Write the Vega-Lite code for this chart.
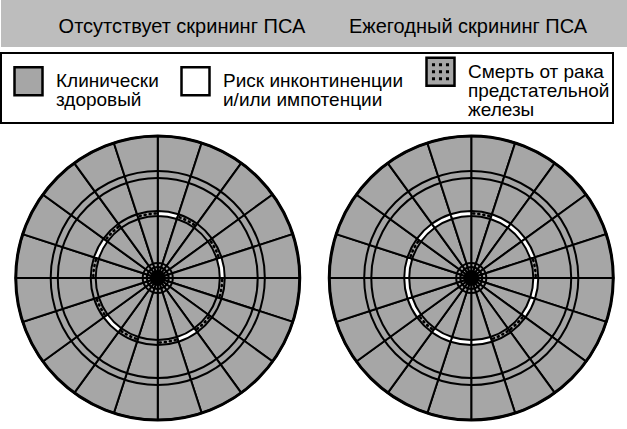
{
  "$schema": "https://vega.github.io/schema/vega-lite/v6.json",
  "padding": 0,
  "spacing": 5,
  "background": "white",
  "config": {"view": {"stroke": null}, "font": "Liberation Sans"},
  "resolve": {"scale": {"x": "independent", "fill": "independent"}, "legend": {"fill": "independent"}},
  "datasets": {
    "panels": [
      {"panel": "Отсутствует скрининг ПСА"},
      {"panel": "Ежегодный скрининг ПСА"}
    ],
    "rings": [
      {"panel": "Отсутствует скрининг ПСА", "r": 7.7},
      {"panel": "Отсутствует скрининг ПСА", "r": 10.6},
      {"panel": "Отсутствует скрининг ПСА", "r": 70.4},
      {"panel": "Отсутствует скрининг ПСА", "r": 75.4},
      {"panel": "Отсутствует скрининг ПСА", "r": 100},
      {"panel": "Ежегодный скрининг ПСА", "r": 7.7},
      {"panel": "Ежегодный скрининг ПСА", "r": 10.6},
      {"panel": "Ежегодный скрининг ПСА", "r": 70.4},
      {"panel": "Ежегодный скрининг ПСА", "r": 75.4},
      {"panel": "Ежегодный скрининг ПСА", "r": 100}
    ],
    "cells": [
      {"panel": "Отсутствует скрининг ПСА", "t0": 0, "t1": 18, "status": "Риск инконтиненции и/или  импотенции"},
      {"panel": "Отсутствует скрининг ПСА", "t0": 18, "t1": 36, "status": "Смерть от рака предстательной железы"},
      {"panel": "Отсутствует скрининг ПСА", "t0": 36, "t1": 54, "status": "Клинически здоровый"},
      {"panel": "Отсутствует скрининг ПСА", "t0": 54, "t1": 72, "status": "Смерть от рака предстательной железы"},
      {"panel": "Отсутствует скрининг ПСА", "t0": 72, "t1": 90, "status": "Риск инконтиненции и/или  импотенции"},
      {"panel": "Отсутствует скрининг ПСА", "t0": 90, "t1": 108, "status": "Смерть от рака предстательной железы"},
      {"panel": "Отсутствует скрининг ПСА", "t0": 108, "t1": 126, "status": "Клинически здоровый"},
      {"panel": "Отсутствует скрининг ПСА", "t0": 126, "t1": 144, "status": "Смерть от рака предстательной железы"},
      {"panel": "Отсутствует скрининг ПСА", "t0": 144, "t1": 162, "status": "Риск инконтиненции и/или  импотенции"},
      {"panel": "Отсутствует скрининг ПСА", "t0": 162, "t1": 180, "status": "Смерть от рака предстательной железы"},
      {"panel": "Отсутствует скрининг ПСА", "t0": 180, "t1": 198, "status": "Клинически здоровый"},
      {"panel": "Отсутствует скрининг ПСА", "t0": 198, "t1": 216, "status": "Смерть от рака предстательной железы"},
      {"panel": "Отсутствует скрининг ПСА", "t0": 216, "t1": 234, "status": "Риск инконтиненции и/или  импотенции"},
      {"panel": "Отсутствует скрининг ПСА", "t0": 234, "t1": 252, "status": "Смерть от рака предстательной железы"},
      {"panel": "Отсутствует скрининг ПСА", "t0": 252, "t1": 270, "status": "Клинически здоровый"},
      {"panel": "Отсутствует скрининг ПСА", "t0": 270, "t1": 288, "status": "Смерть от рака предстательной железы"},
      {"panel": "Отсутствует скрининг ПСА", "t0": 288, "t1": 306, "status": "Риск инконтиненции и/или  импотенции"},
      {"panel": "Отсутствует скрининг ПСА", "t0": 306, "t1": 324, "status": "Смерть от рака предстательной железы"},
      {"panel": "Отсутствует скрининг ПСА", "t0": 324, "t1": 342, "status": "Клинически здоровый"},
      {"panel": "Отсутствует скрининг ПСА", "t0": 342, "t1": 360, "status": "Смерть от рака предстательной железы"},
      {"panel": "Ежегодный скрининг ПСА", "t0": 0, "t1": 18, "status": "Смерть от рака предстательной железы"},
      {"panel": "Ежегодный скрининг ПСА", "t0": 18, "t1": 36, "status": "Риск инконтиненции и/или  импотенции"},
      {"panel": "Ежегодный скрининг ПСА", "t0": 36, "t1": 54, "status": "Риск инконтиненции и/или  импотенции"},
      {"panel": "Ежегодный скрининг ПСА", "t0": 54, "t1": 72, "status": "Риск инконтиненции и/или  импотенции"},
      {"panel": "Ежегодный скрининг ПСА", "t0": 72, "t1": 90, "status": "Смерть от рака предстательной железы"},
      {"panel": "Ежегодный скрининг ПСА", "t0": 90, "t1": 108, "status": "Риск инконтиненции и/или  импотенции"},
      {"panel": "Ежегодный скрининг ПСА", "t0": 108, "t1": 126, "status": "Риск инконтиненции и/или  импотенции"},
      {"panel": "Ежегодный скрининг ПСА", "t0": 126, "t1": 144, "status": "Смерть от рака предстательной железы"},
      {"panel": "Ежегодный скрининг ПСА", "t0": 144, "t1": 162, "status": "Смерть от рака предстательной железы"},
      {"panel": "Ежегодный скрининг ПСА", "t0": 162, "t1": 180, "status": "Риск инконтиненции и/или  импотенции"},
      {"panel": "Ежегодный скрининг ПСА", "t0": 180, "t1": 198, "status": "Риск инконтиненции и/или  импотенции"},
      {"panel": "Ежегодный скрининг ПСА", "t0": 198, "t1": 216, "status": "Риск инконтиненции и/или  импотенции"},
      {"panel": "Ежегодный скрининг ПСА", "t0": 216, "t1": 234, "status": "Смерть от рака предстательной железы"},
      {"panel": "Ежегодный скрининг ПСА", "t0": 234, "t1": 252, "status": "Риск инконтиненции и/или  импотенции"},
      {"panel": "Ежегодный скрининг ПСА", "t0": 252, "t1": 270, "status": "Риск инконтиненции и/или  импотенции"},
      {"panel": "Ежегодный скрининг ПСА", "t0": 270, "t1": 288, "status": "Риск инконтиненции и/или  импотенции"},
      {"panel": "Ежегодный скрининг ПСА", "t0": 288, "t1": 306, "status": "Смерть от рака предстательной железы"},
      {"panel": "Ежегодный скрининг ПСА", "t0": 306, "t1": 324, "status": "Риск инконтиненции и/или  импотенции"},
      {"panel": "Ежегодный скрининг ПСА", "t0": 324, "t1": 342, "status": "Риск инконтиненции и/или  импотенции"},
      {"panel": "Ежегодный скрининг ПСА", "t0": 342, "t1": 360, "status": "Риск инконтиненции и/или  импотенции"}
    ]
  },
  "vconcat": [
    {
      "width": 627,
      "height": 47,
      "view": {"fill": "#bdbdbd", "stroke": null},
      "data": {"name": "panels"},
      "mark": {"type": "text", "fontSize": 20, "font": "Liberation Sans", "color": "black", "baseline": "middle", "dy": 3},
      "encoding": {
        "x": {
          "field": "panel", "type": "nominal", "sort": null,
          "scale": {"type": "band", "paddingInner": 0, "paddingOuter": 0.096, "align": 0.69},
          "axis": null
        },
        "text": {"field": "panel"}
      }
    },
    {
      "width": 627,
      "height": 288,
      "encoding": {
        "x": {
          "field": "panel", "type": "nominal",
          "scale": {"type": "point", "padding": 0.5, "domain": ["Отсутствует скрининг ПСА", "Ежегодный скрининг ПСА"]},
          "axis": null
        }
      },
      "layer": [
        {
          "data": {"name": "cells"},
          "mark": {"type": "arc", "stroke": "black", "strokeWidth": 2},
          "encoding": {
            "theta": {"field": "t0", "type": "quantitative", "scale": {"domain": [0, 360]}},
            "theta2": {"field": "t1"},
            "radius": {"datum": 100, "type": "quantitative", "scale": {"type": "linear", "domain": [0, 100], "range": [0, 142], "zero": true}},
            "radius2": {"datum": 0},
            "fill": {
              "datum": "Клинически здоровый", "type": "nominal", "title": null,
              "scale": {
                "domain": ["Клинически здоровый", "Риск инконтиненции и/или  импотенции", "Смерть от рака предстательной железы"],
                "range": ["#a6a6a6", "#ffffff", "#a6a6a6"]
              },
              "legend": {
                "orient": "top", "title": null, "direction": "horizontal",
                "symbolType": "square", "symbolSize": 784, "symbolOffset": 9,
                "symbolStrokeColor": "black", "symbolStrokeWidth": 2.5,
                "labelFont": "Liberation Sans", "labelFontSize": 19, "labelColor": "black",
                "labelLimit": 400, "labelOffset": 12, "columnPadding": 12,
                "padding": 3, "strokeColor": "black", "offset": 11,
                "labelExpr": "datum.label == 'Клинически здоровый' ? ['Клинически', 'здоровый'] : datum.label == 'Смерть от рака предстательной железы' ? ['Смерть от рака', 'предстательной', 'железы'] : ['Риск инконтиненции', 'и/или  импотенции']",
                "encode": {
                  "symbols": {"update": {
                    "shape": {"signal": "datum.value == 'Смерть от рака предстательной железы' ? 'M-1,-1H1V1H-1Z M-0.52,-0.52h0.04v0.04h-0.04Z M-0.02,-0.52h0.04v0.04h-0.04Z M0.48,-0.52h0.04v0.04h-0.04Z M-0.52,-0.02h0.04v0.04h-0.04Z M-0.02,-0.02h0.04v0.04h-0.04Z M0.48,-0.02h0.04v0.04h-0.04Z M-0.52,0.48h0.04v0.04h-0.04Z M-0.02,0.48h0.04v0.04h-0.04Z M0.48,0.48h0.04v0.04h-0.04Z' : 'square'"},
                    "stroke": {"value": "black"},
                    "strokeWidth": {"value": 2.5},
                    "opacity": {"value": 1}
                  }},
                  "labels": {"update": {"lineHeight": {"value": 19}}},
                  "legend": {"update": {"strokeWidth": {"value": 2}}}
                }
              }
            }
          }
        },
        {
          "data": {"name": "cells"},
          "mark": {"type": "arc", "stroke": "black", "strokeWidth": 2},
          "encoding": {
            "theta": {"field": "t0", "type": "quantitative"},
            "theta2": {"field": "t1"},
            "radius": {"datum": 47.2, "type": "quantitative"},
            "radius2": {"datum": 43.7},
            "fill": {"field": "status", "type": "nominal", "title": null}
          }
        },
        {
          "data": {"name": "cells"},
          "transform": [{"filter": {"field": "status", "equal": "Смерть от рака предстательной железы"}}],
          "mark": {
            "type": "arc", "filled": false, "stroke": "black", "strokeWidth": 2.5,
            "strokeCap": "round", "strokeDash": [1, 4.066], "strokeDashOffset": 3.033
          },
          "encoding": {
            "theta": {"field": "t0", "type": "quantitative"},
            "theta2": {"field": "t1"},
            "radius": {"datum": 45.4, "type": "quantitative"},
            "radius2": {"datum": 45.4}
          }
        },
        {
          "data": {"name": "rings"},
          "mark": {"type": "arc", "filled": false, "stroke": "black"},
          "encoding": {
            "theta": {"datum": 0, "type": "quantitative"},
            "theta2": {"datum": 360},
            "radius": {"field": "r", "type": "quantitative"},
            "radius2": {"field": "r"},
            "strokeWidth": {"condition": {"test": "datum.r == 100", "value": 3}, "value": 2}
          }
        },
        {
          "data": {"name": "panels"},
          "mark": {"type": "arc", "fill": "black"},
          "encoding": {
            "theta": {"datum": 0, "type": "quantitative"},
            "theta2": {"datum": 360},
            "radius": {"datum": 5.6, "type": "quantitative"},
            "radius2": {"datum": 0}
          }
        }
      ]
    }
  ]
}
